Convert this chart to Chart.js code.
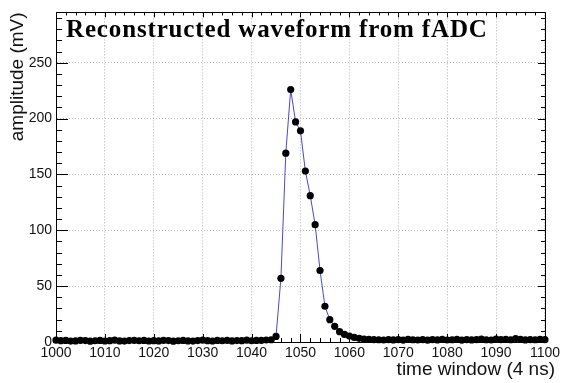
<!DOCTYPE html>
<html>
<head>
<meta charset="utf-8">
<script src="https://cdn.jsdelivr.net/npm/chart.js@4"></script>
<style>
  html, body { margin: 0; padding: 0; background: #fff; }
  #wrap { width: 563px; height: 383px; }
</style>
</head>
<body>
<div id="wrap"><canvas id="waveChart" width="563" height="383"></canvas></div>
<script>
// ============================================
// DATA
// ============================================

const firstBin = 1000;

// fADC amplitude (mV) for each 4 ns bin, from 1000 to 1100
const amplitudes = [
    1.6, 1.2, 1.4, 0.8, 1.0, 1.5, 1.3, 0.7, 1.1, 1.4,
    0.9, 1.2, 1.6, 1.0, 0.8, 1.3, 1.5, 1.1, 1.4, 0.9,
    1.2, 1.0, 1.5, 1.3, 0.7, 1.1, 1.4, 1.0, 0.8, 1.3,
    1.6, 1.2, 0.9, 1.4, 1.1, 1.5, 1.0, 1.3, 1.2, 1.6,
    1.1, 1.4, 1.5, 1.8, 2.0,
    5.0, 57, 169, 226, 197, 189, 153, 131, 105, 64,
    32, 20, 14, 9.2, 6.8, 5.3, 4.1, 3.3, 2.7, 2.4, 2.1,
    2.0, 1.8, 2.2, 1.9, 2.1, 1.7, 2.3, 2.0, 1.8, 2.2,
    1.6, 2.1, 1.9, 2.4, 1.8, 2.0, 2.3, 1.7, 2.1, 1.9,
    2.2, 2.5, 2.0, 1.8, 2.6, 2.2, 2.4, 2.0, 3.1, 2.3,
    1.9, 2.2, 2.0, 2.3, 2.1,
];

const xTickValues = [1000, 1010, 1020, 1030, 1040, 1050, 1060, 1070, 1080, 1090, 1100];
const yTickValues = [0, 50, 100, 150, 200, 250];

const xRange = { min: 1000, max: 1100 };
const yRange = { min: 0, max: 295 };

const titleText = "Reconstructed waveform from fADC";
const xTitleText = "time window (4 ns)";
const yTitleText = "amplitude (mV)";

// ============================================
// STYLE
// ============================================

const sansFamily = '"Liberation Sans", Arial, Helvetica, sans-serif';
const serifFamily = '"Liberation Serif", "Times New Roman", serif';
const lineColor = "#4848d4";
const gridColor = "#b4b4b4";

Chart.defaults.font.family = sansFamily;
Chart.defaults.color = "#111";

// ============================================
// PLUGIN: ROOT style frame, inner ticks, labels
// ============================================

const rootFramePlugin = {
    id: "rootFrame",
    beforeDatasetsDraw(chart) {
        const { ctx, chartArea: a, scales } = chart;
        const x = scales.x;
        const y = scales.y;
        ctx.save();
        ctx.strokeStyle = "#000";
        ctx.lineWidth = 1;

        // top + right frame
        ctx.beginPath();
        ctx.moveTo(a.left, Math.round(a.top) + 0.5);
        ctx.lineTo(Math.round(a.right) + 0.5, Math.round(a.top) + 0.5);
        ctx.lineTo(Math.round(a.right) + 0.5, a.bottom);
        ctx.stroke();

        ctx.beginPath();
        // x ticks: major every 10, minor every 2
        for (let v = xRange.min; v <= xRange.max; v += 2) {
            const major = (v - xRange.min) % 10 === 0;
            const px = Math.round(x.getPixelForValue(v)) + 0.5;
            const lb = major ? 8 : 4;
            const lt = major ? 5 : 3;
            ctx.moveTo(px, a.bottom);
            ctx.lineTo(px, a.bottom - lb);
            ctx.moveTo(px, a.top);
            ctx.lineTo(px, a.top + lt);
        }
        // y ticks: major every 50, minor every 10
        for (let v = yRange.min; v <= yRange.max; v += 10) {
            const major = v % 50 === 0;
            const py = Math.round(y.getPixelForValue(v)) + 0.5;
            const ll = major ? 12 : 6;
            const lr = major ? 7 : 4;
            ctx.moveTo(a.left, py);
            ctx.lineTo(a.left + ll, py);
            ctx.moveTo(a.right, py);
            ctx.lineTo(a.right - lr, py);
        }
        ctx.stroke();
        ctx.restore();
    },
    afterDraw(chart) {
        const { ctx, chartArea: a } = chart;
        ctx.save();

        // title inside the frame, bold serif, stretched to reference width
        ctx.font = `bold 25px ${serifFamily}`;
        ctx.fillStyle = "#000";
        ctx.textBaseline = "alphabetic";
        ctx.textAlign = "left";
        const targetWidth = 421;
        const natural = ctx.measureText(titleText).width;
        if ("letterSpacing" in ctx) {
            ctx.letterSpacing = ((targetWidth - natural) / (titleText.length - 1)).toFixed(2) + "px";
        }
        ctx.fillText(titleText, a.left + 10, a.top + 25);
        if ("letterSpacing" in ctx) ctx.letterSpacing = "0px";

        // x axis title, right aligned past the frame like ROOT
        ctx.font = `19px ${sansFamily}`;
        ctx.fillStyle = "#111";
        ctx.textAlign = "right";
        ctx.textBaseline = "middle";
        ctx.fillText(xTitleText, chart.width - 8, 370);

        ctx.restore();
    },
};

// ============================================
// CHART
// ============================================

const points = amplitudes.map((v, i) => ({ x: firstBin + i, y: v }));

new Chart(document.getElementById("waveChart"), {
    type: "line",
    data: {
        datasets: [
            {
                data: points,
                borderColor: lineColor,
                borderWidth: 1,
                backgroundColor: "#000",
                pointBackgroundColor: "#000",
                pointBorderColor: "#000",
                pointBorderWidth: 0,
                pointRadius: 3.6,
                tension: 0,
                clip: false,
            },
        ],
    },
    plugins: [rootFramePlugin],
    options: {
        responsive: false,
        animation: false,
        events: [],
        layout: { padding: { top: 9, right: 17, bottom: 0, left: 0 } },
        plugins: {
            legend: { display: false },
            title: { display: false },
            tooltip: { enabled: false },
        },
        scales: {
            x: {
                type: "linear",
                min: xRange.min,
                max: xRange.max,
                afterBuildTicks: (axis) => {
                    axis.ticks = xTickValues.map((v) => ({ value: v }));
                },
                afterFit: (axis) => {
                    axis.height = 41;
                },
                ticks: {
                    autoSkip: false,
                    maxRotation: 0,
                    padding: 3,
                    font: { size: 14 },
                    color: "#111",
                    callback: (v) => String(v),
                },
                grid: {
                    color: gridColor,
                    lineWidth: 1,
                    drawTicks: false,
                },
                border: { display: true, color: "#000", width: 1, dash: [1, 2] },
                title: { display: false },
            },
            y: {
                type: "linear",
                min: yRange.min,
                max: yRange.max,
                afterBuildTicks: (axis) => {
                    axis.ticks = yTickValues.map((v) => ({ value: v }));
                },
                afterFit: (axis) => {
                    axis.width = 56;
                },
                ticks: {
                    autoSkip: false,
                    padding: 4,
                    font: { size: 14 },
                    color: "#111",
                    callback: (v) => String(v),
                },
                grid: {
                    color: gridColor,
                    lineWidth: 1,
                    drawTicks: false,
                },
                border: { display: true, color: "#000", width: 1, dash: [1, 2] },
                title: {
                    display: true,
                    text: yTitleText,
                    align: "end",
                    font: { size: 19 },
                    color: "#111",
                    padding: { top: 6, bottom: 0 },
                },
            },
        },
    },
});
</script>
</body>
</html>
